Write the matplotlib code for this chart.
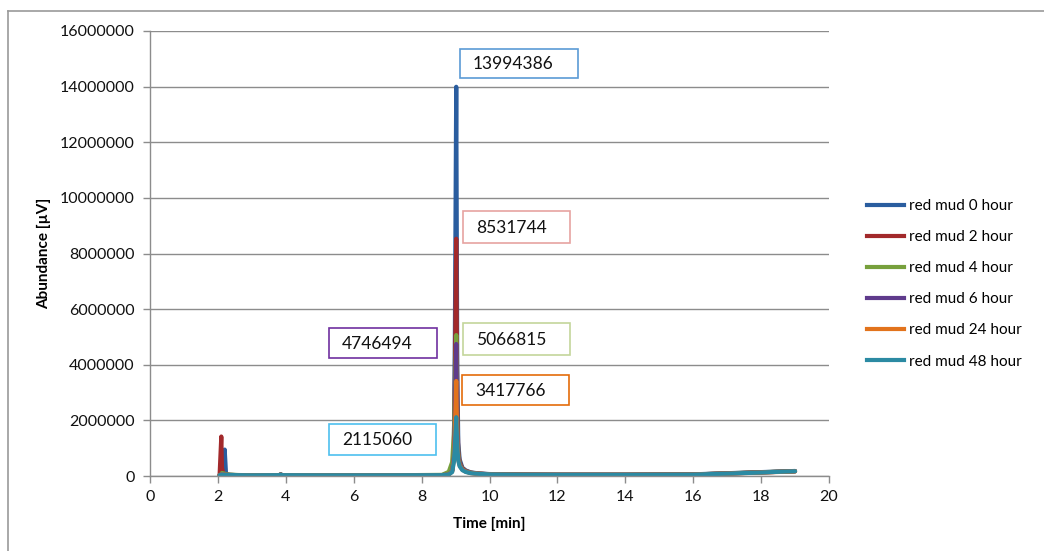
import matplotlib
matplotlib.use("Agg")
import matplotlib.pyplot as plt
from matplotlib.patches import Rectangle
from matplotlib.lines import Line2D

plt.rcParams['font.family'] = ['Lato', 'DejaVu Sans']

# Retention time grid shared by all runs (min)
time_min = [2.05, 2.10, 2.12, 2.16, 2.20, 2.24, 2.35, 2.6, 3.0, 3.8, 3.85, 3.9,
            5.0, 7.0, 8.6, 8.8, 8.9, 8.95, 8.98, 9.02, 9.05, 9.08, 9.12, 9.2,
            9.3, 9.45, 9.7, 10.0, 11.0, 12.0, 14.0, 16.0, 17.0, 18.0, 18.5, 19.0]

series_names = ["red mud 0 hour", "red mud 2 hour", "red mud 4 hour",
                "red mud 6 hour", "red mud 24 hour", "red mud 48 hour"]

peak_values = [13994386, 8531744, 5066815, 4746494, 3417766, 2115060]

abund_0h = [30000, 40000, 60000, 200000, 950000, 60000, 40000, 30000, 25000, 30000, 55000, 30000,
            25000, 25000, 30000, 60000, 200000, 900000, 5000000, 13994386, 4000000, 1200000, 600000, 300000,
            200000, 130000, 90000, 70000, 50000, 45000, 45000, 60000, 100000, 140000, 160000, 180000]
abund_2h = [30000, 1420000, 300000, 80000, 50000, 40000, 35000, 30000, 25000, 30000, 50000, 30000,
            25000, 25000, 30000, 60000, 200000, 800000, 3500000, 8531744, 2600000, 900000, 500000, 280000,
            180000, 120000, 85000, 65000, 50000, 45000, 45000, 55000, 90000, 130000, 150000, 170000]
abund_4h = [30000, 60000, 110000, 95000, 85000, 70000, 50000, 35000, 25000, 30000, 55000, 30000,
            25000, 25000, 40000, 150000, 500000, 1500000, 3000000, 5066815, 1800000, 800000, 450000, 260000,
            170000, 115000, 80000, 62000, 48000, 44000, 44000, 55000, 95000, 135000, 155000, 175000]
abund_6h = [30000, 50000, 70000, 60000, 50000, 45000, 38000, 30000, 25000, 30000, 55000, 30000,
            25000, 25000, 30000, 60000, 180000, 700000, 2200000, 4746494, 1700000, 700000, 420000, 250000,
            165000, 110000, 80000, 62000, 48000, 44000, 44000, 55000, 90000, 130000, 150000, 170000]
abund_24h = [30000, 45000, 60000, 55000, 48000, 42000, 36000, 30000, 25000, 30000, 50000, 30000,
             25000, 25000, 30000, 55000, 160000, 600000, 1600000, 3417766, 1300000, 600000, 380000, 230000,
             155000, 105000, 78000, 60000, 46000, 42000, 42000, 52000, 85000, 125000, 145000, 165000]
abund_48h = [30000, 40000, 55000, 50000, 45000, 40000, 35000, 30000, 25000, 30000, 50000, 30000,
             25000, 25000, 30000, 55000, 140000, 500000, 1100000, 2115060, 1100000, 550000, 350000, 210000,
             145000, 100000, 75000, 58000, 45000, 42000, 42000, 50000, 85000, 125000, 150000, 170000]

all_series = [abund_0h, abund_2h, abund_4h, abund_6h, abund_24h, abund_48h]
line_colors = ["#2a5d9f", "#a2292b", "#77a03c", "#5f3b8c", "#e2731c", "#2b8aa3"]
box_colors = ["#5b9bd5", "#e6a3a1", "#c3d69b", "#7030a0", "#e46c0a", "#4ec0ef"]

# label box placement: (left time, abundance at box bottom, width in min, height)
box_places = [(9.13, 14310000, 3.48, 1040000),
              (9.22, 8380000, 3.15, 1150000),
              (9.22, 4350000, 3.15, 1150000),
              (5.27, 4240000, 3.18, 1080000),
              (9.19, 2550000, 3.15, 1080000),
              (5.27, 755000, 3.15, 1110000)]

fig = plt.figure(figsize=(10.44, 5.51), dpi=100)
ax = fig.add_axes([150 / 1044, 75 / 551, 679 / 1044, 445 / 551])

for name, vals, col in zip(series_names, all_series, line_colors):
    ax.plot(time_min, vals, color=col, lw=3.0, label=name, solid_capstyle='round',
            solid_joinstyle='round')

ax.set_xlim(0, 20)
ax.set_ylim(0, 16000000)
ax.set_xticks(range(0, 21, 2))
ax.set_yticks(range(0, 16000001, 2000000))
ax.set_yticklabels([str(v) for v in range(0, 16000001, 2000000)])
ax.yaxis.grid(True, color="#8c8c8c", lw=1.0)
ax.set_axisbelow(True)
for s in ["top", "right"]:
    ax.spines[s].set_visible(False)
for s in ["left", "bottom"]:
    ax.spines[s].set_color("#8c8c8c")
    ax.spines[s].set_linewidth(1.0)
ax.tick_params(axis='both', direction='out', length=5, width=1.0, color="#8c8c8c",
               labelsize=11.5, labelcolor="#111111")
ax.tick_params(axis='x', pad=5)
ax.tick_params(axis='y', pad=6)

ax.set_xlabel("Time [min]", fontsize=11, fontweight='bold', labelpad=9)
ax.set_ylabel("Abundance [µV]", fontsize=11, fontweight='bold', labelpad=6)

# value label boxes
for val, (x0, y0, w, h), ec in zip(peak_values, box_places, box_colors):
    ax.add_patch(Rectangle((x0, y0), w, h, fill=True, facecolor="white",
                           edgecolor=ec, lw=1.2, zorder=5, clip_on=False))
    ax.text(x0 + 0.38, y0 + h * 0.47, str(val), fontsize=12.5, color="#111111",
            ha='left', va='center', zorder=6)

handles = [Line2D([0], [0], color=c, lw=3.0) for c in line_colors]
fig.legend(handles, series_names, loc='upper left', bbox_to_anchor=(867 / 1044, 1 - 199 / 551),
           frameon=False, fontsize=11, handlelength=2.4, handletextpad=0.35,
           labelspacing=1.12, borderaxespad=0, borderpad=0)

# outer chart frame
fig.add_artist(Line2D([8 / 1044, 8 / 1044], [0, 1 - 11 / 551], color="#9a9a9a", lw=1.2,
                      transform=fig.transFigure))
fig.add_artist(Line2D([8 / 1044, 1], [1 - 11 / 551, 1 - 11 / 551], color="#9a9a9a", lw=1.2,
                      transform=fig.transFigure))

fig.savefig("out.png", dpi=100)
